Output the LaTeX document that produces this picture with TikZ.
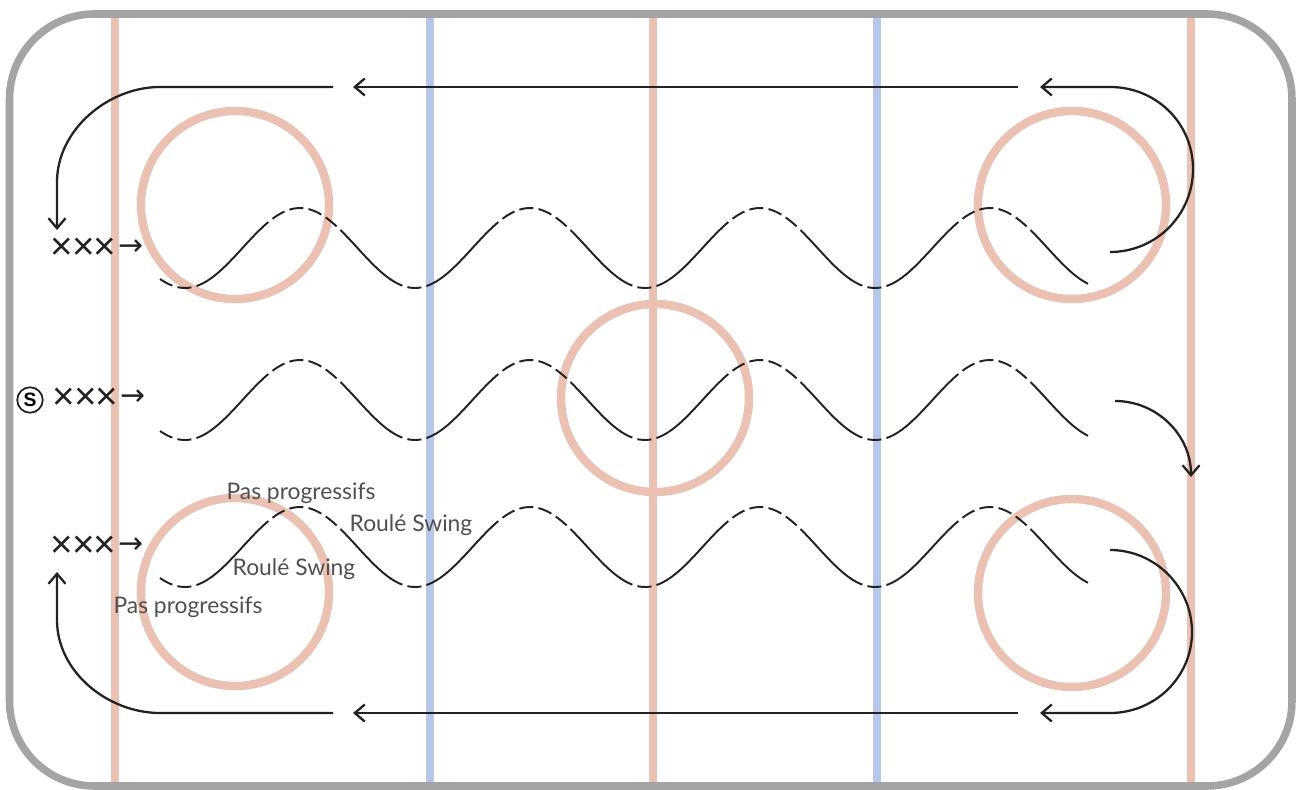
\documentclass[tikz,border=0pt]{standalone}
\usepackage{fontspec}
\setmainfont{Lato}
\setsansfont{Lato}
\newfontfamily\symfont{Liberation Sans}
\newfontfamily\arrfont{DejaVu Sans}
\usepackage{xcolor}
\definecolor{cBoard}{HTML}{A4A4A4}
\definecolor{cRed}{HTML}{EBC1B3}
\definecolor{cBlue}{HTML}{B7C7EA}
\definecolor{ink}{HTML}{222222}
\definecolor{note}{HTML}{505050}
\usepackage{tikz}
\usetikzlibrary{arrows.meta}
\newcommand{\trioarrow}{×\kern-0.6pt×\kern-0.6pt×\hspace{1pt}\raisebox{2.2pt}{\arrfont\fontsize{17}{17}\selectfont →}}

\begin{document}
\begin{tikzpicture}[x=0.02cm,y=-0.02cm,
  font=\sffamily,
  boards/.style={draw=cBoard,line width=4.3pt,rounded corners=1.7cm},
  redl/.style={draw=cRed,line width=4.6pt},
  bluel/.style={draw=cBlue,line width=4.6pt},
  faceoff/.style={draw=cRed,line width=4.8pt},
  skate/.style={ink,line width=1.1pt},
  glide/.style={skate,dash pattern=on 8pt off 3pt},
  fwd/.style={-{Straight Barb[length=2mm,width=3.4mm]},ink,line width=1.3pt},
  lab/.style={text=note,font=\sffamily\fontsize{13}{15}\selectfont,inner sep=1pt},
  trio/.style={text=ink,font=\symfont\fontsize{22}{22}\selectfont,inner sep=0pt}]
\useasboundingbox (0,0) rectangle (1301,790);

% lines and circles
\draw[redl] (115,18) -- (115,782);
\draw[bluel] (430,18) -- (430,782);
\draw[redl] (653,18) -- (653,782);
\draw[bluel] (877,18) -- (877,782);
\draw[redl] (1191,18) -- (1191,782);
\draw[boards] (9.5,14) rectangle (1292,786);
\foreach \cx/\cy in {235/205,1072/205,655/398,235/592,1072/593}
  \draw[faceoff] (\cx,\cy) circle[radius=94];

% waves: dashed on top and bottom, solid on the slopes
\foreach \rowy in {248,400,547}{
  \foreach \k in {0,...,3}{
    \pgfmathsetmacro\tr{185+230*\k}
    \pgfmathsetmacro\xa{\tr-25}
    \pgfmathsetmacro\xb{\tr+24}
    \pgfmathsetmacro\xc{\tr+73}
    \pgfmathsetmacro\xd{\tr+157}
    \pgfmathsetmacro\xe{\k==3 ? 1088 : \tr+206}
    \draw[glide] plot[domain=\xa:\xb,samples=16] (\x,{\rowy+40*cos((\x-\tr)*1.5652)});
    \draw[skate] plot[domain=\xb:\xc,samples=16] (\x,{\rowy+40*cos((\x-\tr)*1.5652)});
    \draw[glide] plot[domain=\xc:\xd,samples=24] (\x,{\rowy+40*cos((\x-\tr)*1.5652)});
    \draw[skate] plot[domain=\xd:\xe,samples=16] (\x,{\rowy+40*cos((\x-\tr)*1.5652)});
  }
}

% players
\node[trio] (xtop) at (97,249) {\trioarrow};
\node[trio] (xmid) at (99,399) {\trioarrow};
\node[trio] (xbot) at (97,547) {\trioarrow};
\node[circle,draw=ink,line width=1pt,minimum size=14.5pt,inner sep=0pt,
  font=\symfont\bfseries\fontsize{11}{11}\selectfont] (coach) at (30,400) {S};

% labels
\node[lab] (pp1) at (301,493) {Pas progressifs};
\node[lab] (rs1) at (411,525) {Roulé Swing};
\node[lab] (rs2) at (294,569) {Roulé Swing};
\node[lab] (pp2) at (188,607) {Pas progressifs};

% return paths
\coordinate (t0) at (1110,252);
\coordinate (t1) at (1040,87);
\coordinate (t2) at (1018,87);
\coordinate (t3) at (353,87);
\coordinate (t4) at (333,87);
\coordinate (t5) at (57,230);
\coordinate (m0) at (1115,401);
\coordinate (m1) at (1191,477);
\coordinate (b0) at (1110,550);
\coordinate (b1) at (1040,713);
\coordinate (b2) at (1018,713);
\coordinate (b3) at (353,713);
\coordinate (b4) at (333,713);
\coordinate (b5) at (57,572);
\draw[fwd] (t0) .. controls (1156,252) and (1193,215) .. (1193,169)
  .. controls (1193,123) and (1156,87) .. (1110,87) -- (t1);
\draw[fwd] (t2) -- (t3);
\draw[fwd] (t4) -- (160,87) .. controls (108,87) and (57,130) .. (57,182) -- (t5);
\draw[fwd] (m0) .. controls (1157,401) and (1191,435) .. (m1);
\draw[fwd] (b0) .. controls (1155,550) and (1192,587) .. (1192,632)
  .. controls (1192,677) and (1155,713) .. (1110,713) -- (b1);
\draw[fwd] (b2) -- (b3);
\draw[fwd] (b4) -- (160,713) .. controls (108,713) and (57,672) .. (57,620) -- (b5);
\end{tikzpicture}
\end{document}
